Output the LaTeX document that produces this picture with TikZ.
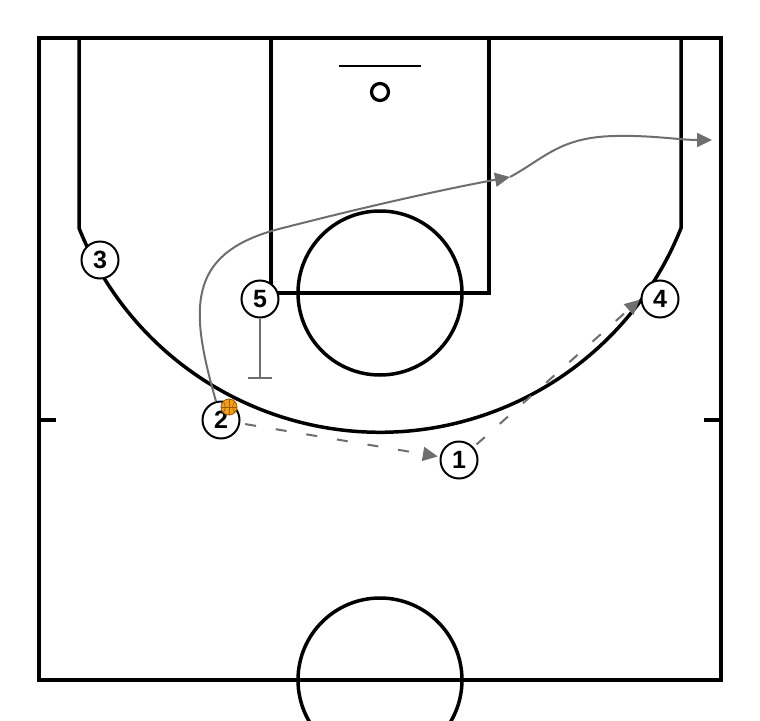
\documentclass[tikz,border=0pt]{standalone}
\usepackage{fontspec}
\setmainfont{Liberation Sans}
\usetikzlibrary{arrows.meta}
\definecolor{pathgray}{HTML}{6E6E6E}
\definecolor{ballorange}{HTML}{F0A020}
\definecolor{ballline}{HTML}{9A5A00}
\begin{document}
\begin{tikzpicture}[x=1pt,y=-1pt,
 court/.style={line width=3.5pt, black},
 player/.style={circle, draw, line width=2pt, fill=white, minimum size=37pt, inner sep=0pt, font=\fontsize{25}{25}\selectfont\bfseries},
 move/.style={line width=2pt, pathgray},
 passline/.style={line width=2pt, pathgray, dash pattern=on 11pt off 20pt},
 tip/.style={-{Triangle[length=15pt,width=14pt]}},
 seam/.style={line width=0.6pt, ballline},
]
\useasboundingbox (0,0) rectangle (760,720);
\fill[white] (0,0) rectangle (760,720);
% court
\begin{scope}
\clip (0,0) rectangle (760,720);
\draw[court] (380,680) circle[radius=82];
\end{scope}
\draw[court] (39,38) rectangle (721,680);
\draw[court] (271,38) -- (271,293) -- (489,293) -- (489,38);
\draw[court] (380,293) circle[radius=82];
\draw[court] (79,38) -- (79,228) arc[start angle=158.3, end angle=21.7, radius=324] -- (681,38);
\draw[court] (39,420) -- (56,420);
\draw[court] (704,420) -- (721,420);
\draw[line width=2pt] (339,66) -- (421,66);
\draw[line width=3.2pt] (380,92) circle[radius=8.5];
% players
\node[player] (p3) at (100,260) {3};
\node[player] (p5) at (260,299) {5};
\node[player] (p4) at (660,299) {4};
\node[player] (p2) at (221,420) {2};
\node[player] (p1) at (459,460) {1};
% screen
\coordinate (s5) at (260,379);
\draw[move, -{Bar[width=24pt]}] (p5) -- (s5);
% cut of 2
\coordinate (c1) at (510,177);
\coordinate (c2) at (712,140);
\draw[move, tip] (p2.105) .. controls (190,310) and (186,255) .. (275,230) .. controls (360,208) and (440,190) .. (c1);
\draw[move, tip] (c1) .. controls (545,158) and (560,137) .. (615,136) .. controls (650,135) and (680,140) .. (c2);
% passes
\draw[passline, tip, shorten <=5pt, shorten >=2pt] (p2) -- (p1);
\draw[passline, tip, shorten <=4pt, shorten >=1pt] (p1) -- (p4.west);
% ball
\node[circle, fill=ballorange, draw=ballline, line width=0.8pt, minimum size=16pt, inner sep=0pt] (ball) at (229,407) {};
\draw[seam] (ball.north) -- (ball.south);
\draw[seam] (ball.west) -- (ball.east);
\draw[seam] (223,401) .. controls (226,405) and (226,409) .. (223,413);
\draw[seam] (235,401) .. controls (232,405) and (232,409) .. (235,413);
\end{tikzpicture}
\end{document}
